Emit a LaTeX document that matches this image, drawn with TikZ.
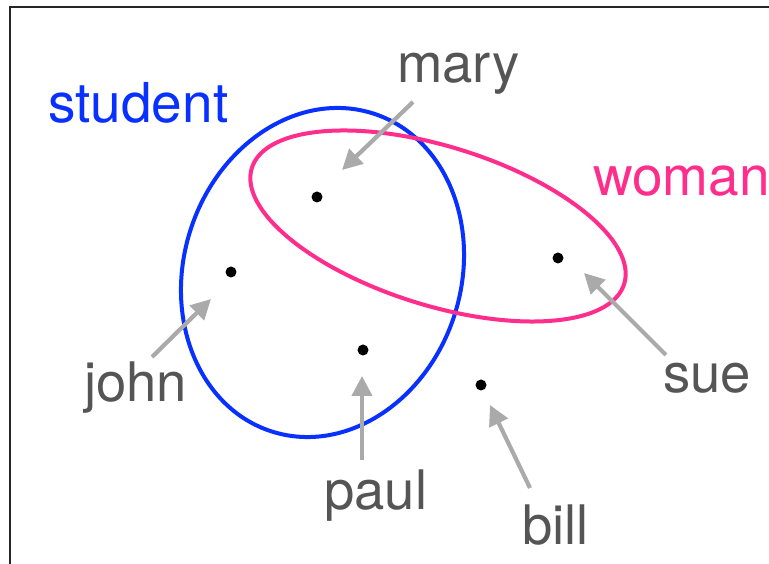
\documentclass[tikz,border=0pt]{standalone}
\usepackage{fontspec}
\setmainfont{TeX Gyre Heros}
\usetikzlibrary{arrows.meta}
\definecolor{setblue}{RGB}{8,48,255}
\definecolor{setpink}{RGB}{255,45,140}
\definecolor{labgray}{RGB}{85,85,85}
\definecolor{arrgray}{RGB}{170,170,170}
\tikzset{
  elem/.style={circle,fill=black,inner sep=0pt,minimum size=11pt},
  lab/.style={anchor=base west,inner sep=0pt,text=labgray,font=\fontsize{54.5}{60}\selectfont},
  setlab/.style={anchor=base west,inner sep=0pt,font=\fontsize{55}{60}\selectfont},
  ptr/.style={draw=arrgray,line width=4.2pt,-{Triangle[length=20pt,width=20pt]}},
}
\begin{document}
\begin{tikzpicture}[x=1pt,y=1pt]
\useasboundingbox (0,0) rectangle (769,564);
\clip (0,0) rectangle (769,564);
\fill[white] (0,0) rectangle (769,564);
% frame
\draw[line width=2.8pt,black!85] (10,-20) -- (10,557) -- (800,557);
% sets
\draw[setblue,line width=4pt,rotate around={-17.6:(322.5,291.5)}] (322.5,291.5) ellipse [x radius=138.7pt,y radius=166.9pt];
\draw[setpink,line width=4pt,rotate around={-17.3:(438,338)}] (438,338) ellipse [x radius=195pt,y radius=79.5pt];
% elements
\node[elem] (mary) at (317,367) {};
\node[elem] (john) at (231,292) {};
\node[elem] (paul) at (363,214) {};
\node[elem] (sue) at (558,306) {};
\node[elem] (bill) at (481,179) {};
% labels
\node[setlab,text=setblue] (student) at (48,441) {student};
\node[setlab,text=setpink] (woman) at (593,368) {woman};
\node[lab] (lmary) at (397,481) {mary};
\node[lab] (ljohn) at (84,162) {john};
\node[lab] (lpaul) at (324,54) {paul};
\node[lab] (lbill) at (522,19) {bill};
\node[lab] (lsue) at (663,171) {sue};
% arrows
\coordinate (maryTail) at (413,462); \coordinate (maryTip) at (342,394);
\coordinate (johnTail) at (152,207); \coordinate (johnTip) at (211,265);
\coordinate (paulTail) at (362,104); \coordinate (paulTip) at (362,188);
\coordinate (billTail) at (530,76);  \coordinate (billTip) at (490,159);
\coordinate (sueTail) at (666,209);  \coordinate (sueTip) at (584,291);
\draw[ptr] (maryTail) -- (maryTip);
\draw[ptr] (johnTail) -- (johnTip);
\draw[ptr] (paulTail) -- (paulTip);
\draw[ptr] (billTail) -- (billTip);
\draw[ptr] (sueTail) -- (sueTip);
\end{tikzpicture}
\end{document}
